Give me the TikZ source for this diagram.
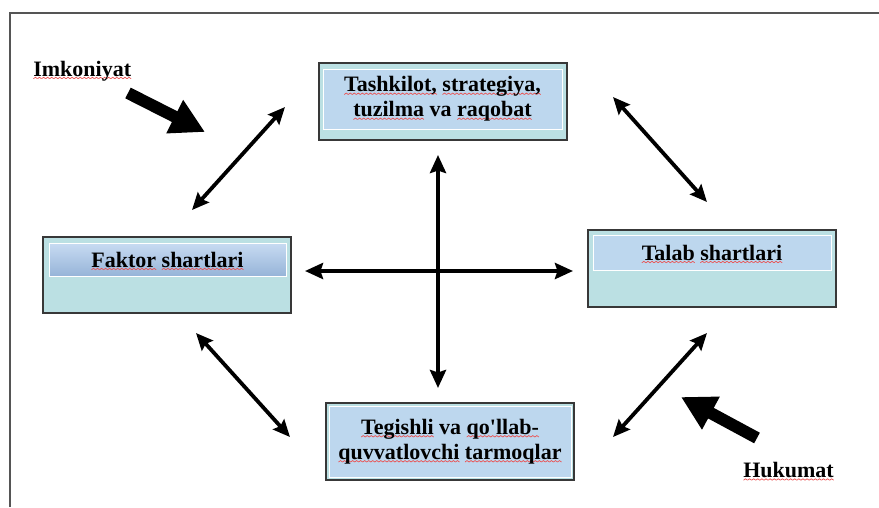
\documentclass[tikz,border=0pt]{standalone}
\usepackage{fontspec}
\setmainfont{Liberation Serif}
\newfontfamily\uzfont{Liberation Serif}
\usetikzlibrary{arrows.meta}
\definecolor{outerfill}{RGB}{187,224,227}
\definecolor{innerfill}{RGB}{189,215,238}
\definecolor{gradtop}{RGB}{200,219,242}
\definecolor{gradbot}{RGB}{150,180,216}
\definecolor{squig}{RGB}{235,80,80}
\definecolor{framecol}{RGB}{85,85,85}
\newsavebox\splbox
\newcommand\wavebit{{\color{squig}\begin{pgfpicture}\pgfpathrectangle{\pgfpoint{0pt}{-1pt}}{\pgfpoint{4pt}{2pt}}\pgfusepath{use as bounding box}\pgfsetlinewidth{0.7pt}\pgfpathmoveto{\pgfpoint{0pt}{-0.7pt}}\pgfpathlineto{\pgfpoint{2pt}{0.7pt}}\pgfpathlineto{\pgfpoint{4pt}{-0.7pt}}\pgfusepath{stroke}\end{pgfpicture}}}
\newcommand\spl[1]{\sbox\splbox{#1}\leavevmode\rlap{\raisebox{-3pt}[0pt][0pt]{\hbox to \wd\splbox{\xleaders\hbox{\wavebit}\hfill}}}\usebox\splbox}
\tikzset{
  dtip/.tip={Stealth[length=18pt 0 0,width=16pt 0 0,inset=2.5pt 0 0,fill=black,color=black]},
  stip/.tip={Stealth[length=17pt 0 0,width=15pt 0 0,inset=2.5pt 0 0,fill=black,color=black]},
  ftip/.tip={Triangle[length=34pt 0 0,width=35pt 0 0,fill=black,color=black]},
}
\begin{document}
\begin{tikzpicture}[x=1pt,y=-1pt,
  txt/.style={font=\uzfont\bfseries\fontsize{22}{25}\selectfont},
  outerbox/.style={draw=black!78, line width=1.4pt, fill=outerfill, inner sep=0pt},
  innerbox/.style={txt, draw=white, line width=1pt, fill=innerfill, inner sep=0pt, align=center},
  lbl/.style={txt, inner sep=0pt},
  dbl/.style={draw=black, line width=4.8pt, dtip-dtip},
  diag/.style={draw=black, line width=3.8pt, stip-stip},
  fat/.style={draw=black, line width=12pt, -ftip},
  frame/.style={draw=framecol, line width=1.3pt}]
\useasboundingbox (0,0) rectangle (879,507);
\fill[white] (0,0) rectangle (879,507);
\draw[frame] (10,507) -- (10,13) -- (879,13);

% boxes
\node[outerbox, minimum width=248pt, minimum height=77pt] (topO) at (443,101.5) {};
\node[innerbox, minimum width=239pt, minimum height=60pt] (topI) at (442.5,99)
  {\spl{Tashkilot,} \spl{strategiya,}\\ \spl{tuzilma} va \spl{raqobat}};

\node[outerbox, minimum width=248pt, minimum height=76pt] (leftO) at (167,275) {};
\node[innerbox, fill=none, top color=gradtop, bottom color=gradbot, minimum width=237pt, minimum height=33pt] (leftI) at (167.5,259.5)
  {\spl{Faktor} \spl{shartlari}};

\node[outerbox, minimum width=248pt, minimum height=77pt] (rightO) at (712,268.5) {};
\node[innerbox, minimum width=238pt, minimum height=35pt] (rightI) at (712,252.5)
  {\spl{Talab} \spl{shartlari}};

\node[outerbox, minimum width=248pt, minimum height=77pt] (botO) at (450,441.5) {};
\node[innerbox, minimum width=242pt, minimum height=71pt] (botI) at (450,441.5)
  {\spl{Tegishli} va \spl{qo'llab-}\\ \spl{quvvatlovchi} \spl{tarmoqlar}};

% labels
\node[lbl, anchor=base west] (imk) at (33,76) {\spl{Imkoniyat}};
\node[lbl, anchor=base west] (huk) at (743,477.5) {\spl{Hukumat}};

% connector end points
\coordinate (vt) at (438,155);
\coordinate (vb) at (438,388);
\coordinate (hl) at (305,271);
\coordinate (hr) at (573,271);
\coordinate (a1) at (192,210); \coordinate (b1) at (285,107);
\coordinate (a2) at (613,97);  \coordinate (b2) at (707,202);
\coordinate (a3) at (196,333); \coordinate (b3) at (290,437);
\coordinate (a4) at (613,437); \coordinate (b4) at (707,333);
\coordinate (f1s) at (128,93);  \coordinate (f1e) at (205,132);
\coordinate (f2s) at (757,438); \coordinate (f2e) at (681,397);

\draw[dbl] (vt) -- (vb);
\draw[dbl] (hl) -- (hr);
\draw[diag] (a1) -- (b1);
\draw[diag] (a2) -- (b2);
\draw[diag] (a3) -- (b3);
\draw[diag] (a4) -- (b4);
\draw[fat] (f1s) -- (f1e);
\draw[fat] (f2s) -- (f2e);
\end{tikzpicture}
\end{document}
